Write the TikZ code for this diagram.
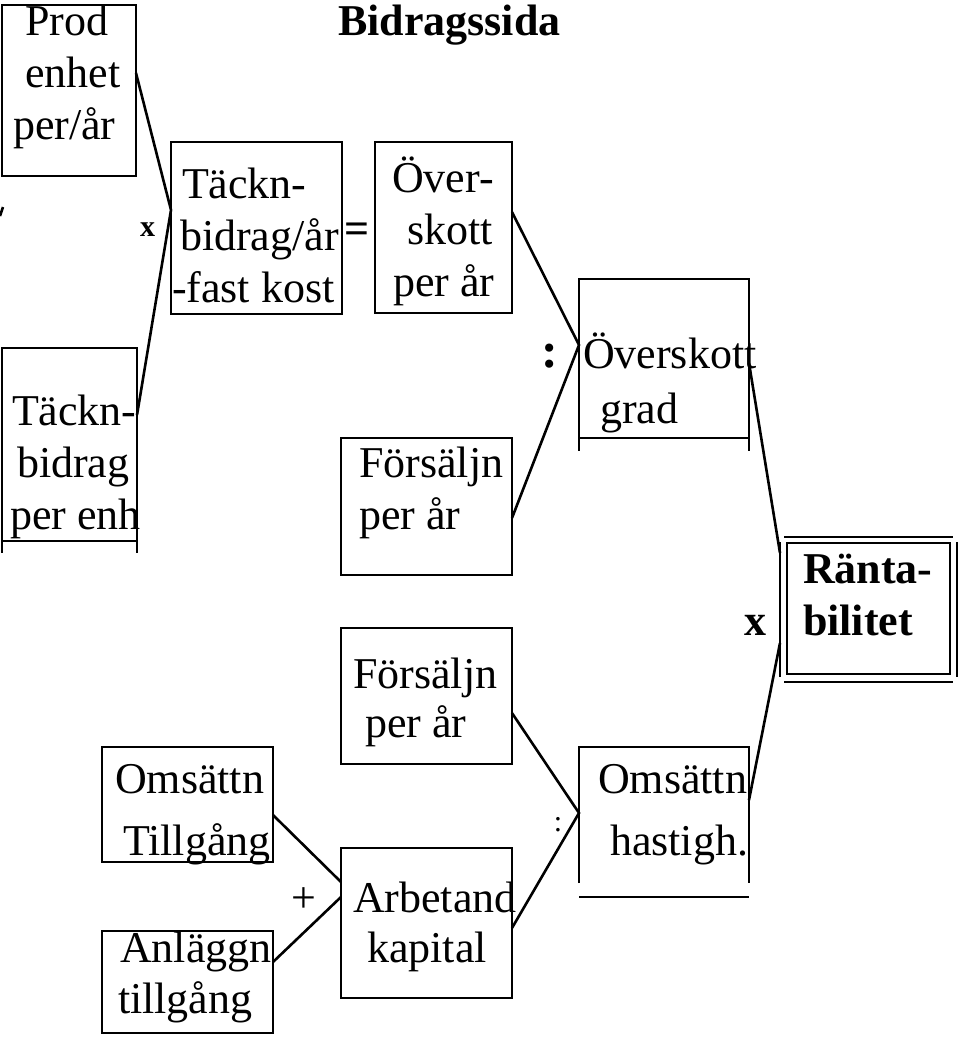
\documentclass[tikz,border=0pt]{standalone}
\usepackage{fontspec}
\setmainfont{Liberation Serif}
\newcommand{\tallrule}{\rule{0pt}{40pt}}
\begin{document}
\begin{tikzpicture}[x=1pt,y=1pt,inner sep=0pt,outer sep=0pt,line width=2.6pt,
box/.style={draw,rectangle,line width=2.6pt},
txt/.style={anchor=north west,align=left,font=\fontsize{44}{52}\selectfont},
btxt/.style={txt,font=\bfseries\fontsize{44}{52}\selectfont},
sym/.style={font=\fontsize{44}{52}\selectfont}]
\useasboundingbox (0,0) rectangle (958,-1037);
\draw (338,-35) node[anchor=base west,font=\bfseries\fontsize{44}{52}\selectfont] (title) {Bidragssida};
% boxes
\draw (69,-90.5) node[box,minimum width=134pt,minimum height=171pt] (prod) {};
\draw (256.5,-228) node[box,minimum width=171pt,minimum height=172pt] (tb) {};
\draw (443.5,-227.5) node[box,minimum width=137pt,minimum height=171pt] (os) {};
\draw (664,-358.5) node[box,minimum width=170pt,minimum height=159pt] (og) {};
\draw (426.5,-506.5) node[box,minimum width=171pt,minimum height=137pt] (f1) {};
\draw (69.5,-444.5) node[box,minimum width=135pt,minimum height=193pt] (te) {};
\draw (426.5,-696) node[box,minimum width=171pt,minimum height=136pt] (f2) {};
\draw (187.5,-804.5) node[box,minimum width=171pt,minimum height=115pt] (ot) {};
\draw (187.5,-982) node[box,minimum width=171pt,minimum height=102pt] (at) {};
\draw (426.5,-923) node[box,minimum width=171pt,minimum height=150pt] (ak) {};
\draw (664,-815) node[minimum width=170pt,minimum height=136pt] (oh) {};
\draw (868.5,-608.5) node[box,minimum width=163pt,minimum height=131pt] (ranta) {};
% open ends and double frame
\draw (og.south west) -- ++(0,-13) (og.south east) -- ++(0,-13);
\draw (te.south west) -- ++(0,-12) (te.south east) -- ++(0,-12);
\draw (oh.south west) -- (oh.north west) -- (oh.north east) -- (oh.south east);
\draw ([yshift=-14pt]oh.south west) -- ([yshift=-14pt]oh.south east);
\draw ([shift={(-3,6)}]ranta.north west) -- ([shift={(3,6)}]ranta.north east)
      ([shift={(-3,-8)}]ranta.south west) -- ([shift={(3,-8)}]ranta.south east)
      ([shift={(-7,1)}]ranta.north west) -- ([shift={(-7,-3)}]ranta.south west)
      ([shift={(7,1)}]ranta.north east) -- ([shift={(7,-3)}]ranta.south east);
% connectors
\draw ([yshift=17.5pt]prod.east) -- ([yshift=18pt]tb.west) -- ([yshift=29.5pt]te.east);
\draw ([yshift=15.5pt]os.east) -- ([yshift=13.5pt]og.west) -- ([yshift=-11.5pt]f1.east);
\draw ([yshift=-4.5pt]og.east) -- ([shift={(-7,55.5)}]ranta.west);
\draw ([yshift=15pt]oh.east) -- ([shift={(-7,-34.5)}]ranta.west);
\draw ([yshift=-17pt]f2.east) -- ([yshift=2pt]oh.west) -- ([yshift=-5pt]ak.east);
\draw ([yshift=-10.5pt]ot.east) -- ([yshift=41pt]ak.west);
\draw ([yshift=20pt]at.east) -- ([yshift=26pt]ak.west);
\draw (0,-216) -- (3,-207);
% texts
\draw (13,5) node[txt] (prodtxt) {\hspace*{12pt}\tallrule Prod\\\hspace*{12pt}enhet\\per/år};
\draw (172,-158) node[txt] (tbtxt) {\hspace*{10pt}\tallrule Täckn-\\\hspace*{8pt}bidrag/år\\-fast kost};
\draw (392,-152) node[txt] (ostxt) {\tallrule Över-\\\hspace*{15pt}skott\\\hspace*{1pt}per år};
\draw (583,-328) node[txt] (ogtxt) {\tallrule Överskott\\[3pt]\hspace*{17pt}grad};
\draw (359,-437) node[txt] (f1txt) {\tallrule Försäljn\\per år};
\draw (10,-385) node[txt] (tetxt) {\hspace*{2pt}\tallrule Täckn-\\\hspace*{7pt}bidrag\\per enh};
\draw (353,-648) node[txt] (f2txt) {\tallrule Försäljn\\[-3pt]\hspace*{12pt}per år};
\draw (115,-753) node[txt] (ottxt) {\tallrule Omsättn\\[10pt]\hspace*{8pt}Tillgång};
\draw (118,-922) node[txt] (attxt) {\hspace*{2pt}\tallrule Anläggn\\[-1pt]tillgång};
\draw (353,-872) node[txt] (aktxt) {\tallrule Arbetand\\[-2pt]\hspace*{14pt}kapital};
\draw (598,-753) node[txt] (ohtxt) {\tallrule Omsättn\\[10pt]\hspace*{12pt}hastigh.};
\draw (803,-543) node[btxt] (rtxt) {\tallrule Ränta-\\bilitet};
% operators
\draw (147.5,-230) node[font=\bfseries\fontsize{30}{30}\selectfont] (mul1) {x};
\draw (357,-233) node[sym,font=\bfseries\fontsize{44}{52}\selectfont] (eq) {=};
\draw (550,-356) node[font=\bfseries\fontsize{50}{52}\selectfont] (div1) {:};
\draw (558,-824.5) node[font=\fontsize{30}{30}\selectfont] (div2) {:};
\draw (755,-625) node[sym,font=\bfseries\fontsize{44}{52}\selectfont] (mul2) {x};
\draw (304,-900) node[sym] (plus) {+};
\end{tikzpicture}
\end{document}
